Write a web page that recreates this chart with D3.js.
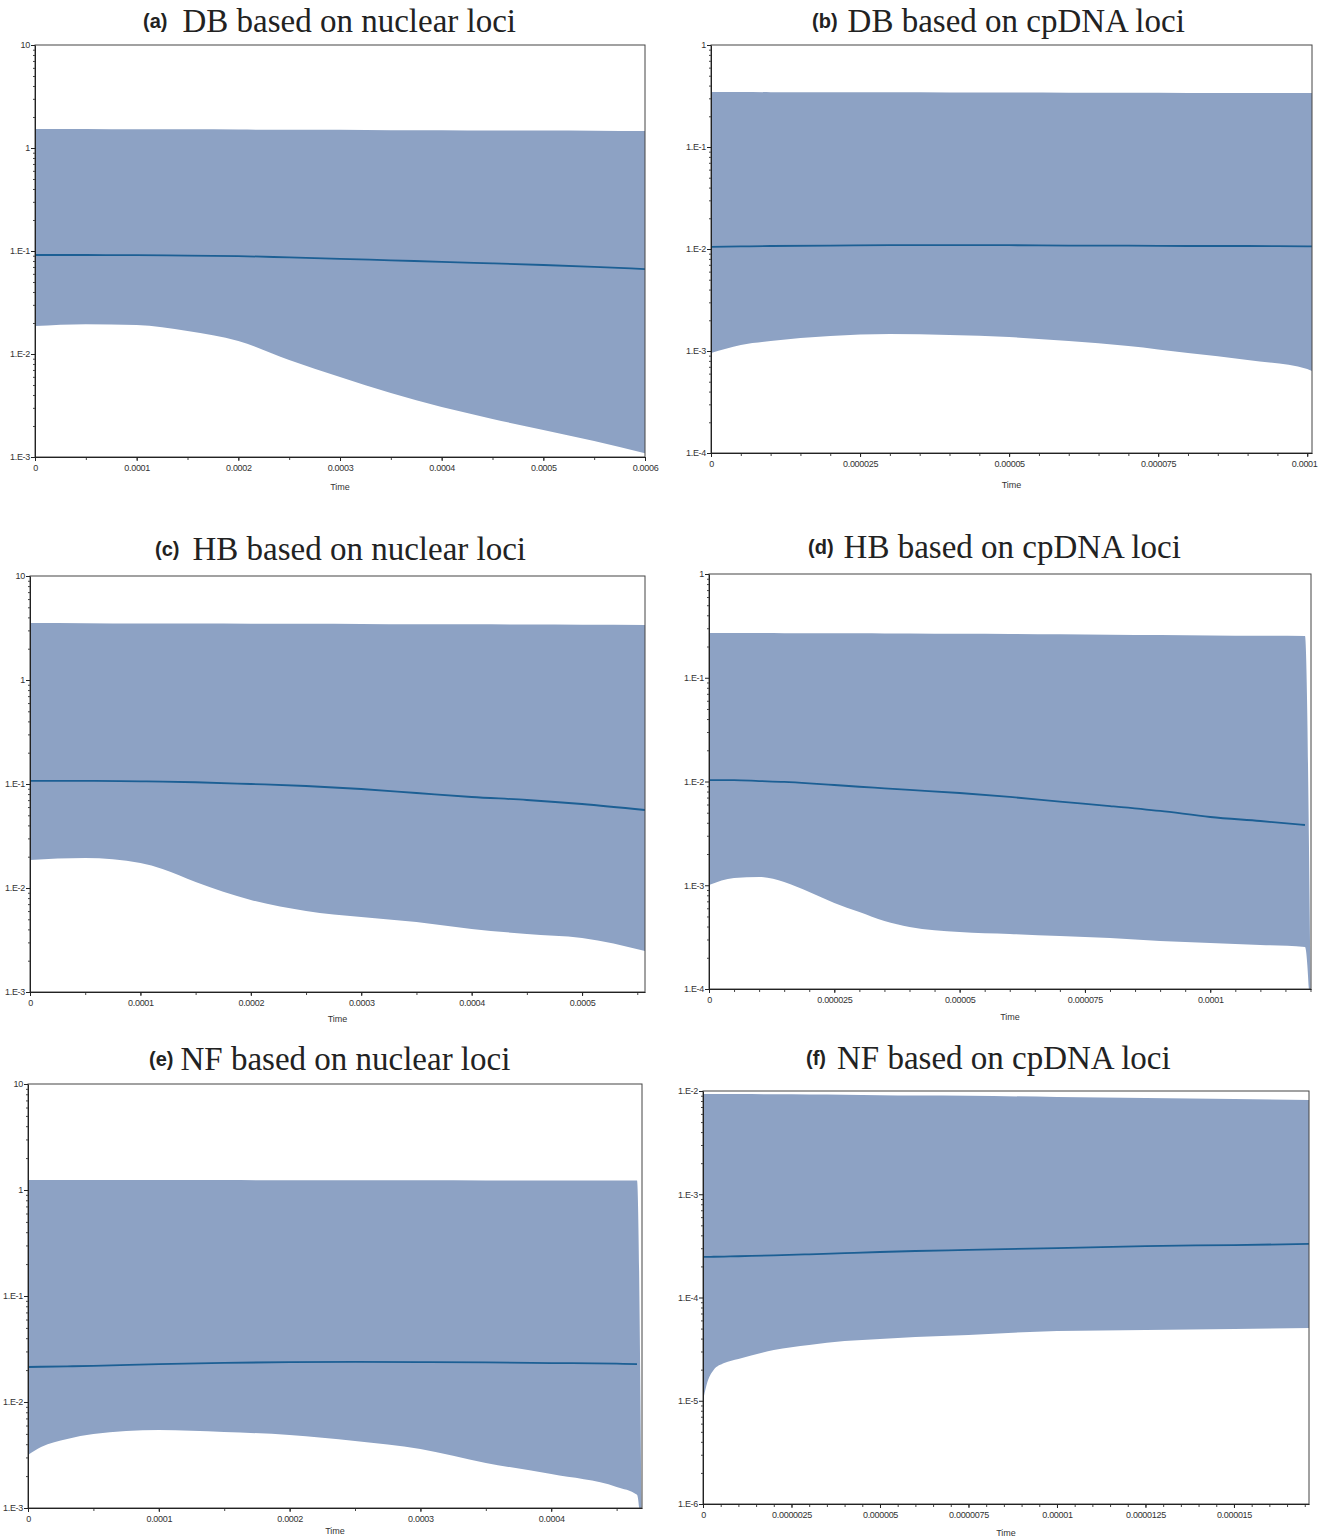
<!DOCTYPE html>
<html><head><meta charset="utf-8">
<script src="https://cdn.jsdelivr.net/npm/d3@7"></script>
<style>body{margin:0;background:#fff} svg{display:block}</style>
</head><body>
<svg id="chart" width="1319" height="1539"></svg>
<script>
// ---------- DATA ----------
const panelLetters = ["(a)","(b)","(c)","(d)","(e)","(f)"];
const panelTitles = ["DB based on nuclear loci","DB based on cpDNA loci","HB based on nuclear loci","HB based on cpDNA loci","NF based on nuclear loci","NF based on cpDNA loci"];

const timeA   = [0,0.00005,0.0001,0.00015,0.0002,0.00025,0.0003,0.00035,0.0004,0.00045,0.0005,0.00055,0.0006];
const upperA  = [1.53,1.53,1.52,1.52,1.51,1.50,1.50,1.49,1.49,1.48,1.48,1.47,1.46];
const medianA = [0.0914,0.0914,0.0910,0.0903,0.0893,0.0866,0.0840,0.0812,0.0785,0.0758,0.0731,0.0700,0.0668];
const lowerA  = [0.0187,0.0195,0.0191,0.0167,0.01336,0.00875,0.00598,0.00418,0.00305,0.00234,0.00183,0.00143,0.00109];

const timeB   = [0,0.000005,0.00001,0.00002,0.00003,0.00004,0.00005,0.00006,0.00007,0.00008,0.00009,0.0001,0.0001008];
const upperB  = [0.346,0.346,0.345,0.345,0.344,0.343,0.342,0.341,0.340,0.339,0.339,0.338,0.338];
const medianB = [0.0105,0.0106,0.0107,0.0108,0.0109,0.0109,0.0109,0.0108,0.0108,0.0107,0.0107,0.0106,0.0106];
const lowerB  = [0.000955,0.001146,0.001253,0.001403,0.001469,0.001435,0.001371,0.001253,0.001119,0.000955,0.000816,0.000667,0.000637];

const timeC   = [0,0.00005,0.0001,0.00012,0.00015,0.0002,0.00025,0.0003,0.00035,0.0004,0.00045,0.0005,0.000557];
const upperC  = [3.53,3.52,3.50,3.50,3.49,3.48,3.47,3.46,3.44,3.43,3.41,3.40,3.38];
const medianC = [0.107,0.107,0.106,0.1055,0.104,0.100,0.0957,0.0895,0.0819,0.075,0.0702,0.0642,0.0562];
const lowerC  = [0.01858,0.01942,0.01738,0.01524,0.01142,0.00767,0.00601,0.00526,0.00471,0.00404,0.00361,0.00330,0.00248];

const timeD   = [0,0.000005,0.00001,0.000015,0.00002,0.000025,0.00003,0.000035,0.00004,0.00005,0.00006,0.00007,0.00008,0.00009,0.0001,0.00011,0.0001189,0.00012];
const upperD  = [0.270,0.270,0.270,0.269,0.269,0.268,0.268,0.267,0.267,0.265,0.264,0.262,0.260,0.258,0.256,0.254,0.252,0.000105];
const medianD = [0.01033,0.0103,0.0101,0.0099,0.0096,0.00925,0.0089,0.0086,0.0083,0.00775,0.0071,0.0064,0.0058,0.0052,0.00455,0.00416,0.00381,null];
const lowerD  = [0.001005,0.001175,0.001202,0.001075,0.000861,0.000675,0.000552,0.000452,0.000396,0.000354,0.000339,0.000324,0.000310,0.000290,0.000278,0.000266,0.000254,0.00005];

const timeE   = [0,0.00001,0.00003,0.00005,0.0001,0.00015,0.0002,0.00025,0.0003,0.00035,0.0004,0.00045,0.0004656,0.000469];
const upperE  = [1.24,1.24,1.24,1.24,1.24,1.24,1.235,1.235,1.235,1.23,1.23,1.23,1.23,0.00105];
const medianE = [0.0214,0.0215,0.0217,0.0219,0.0228,0.0234,0.0238,0.0239,0.0238,0.0236,0.0233,0.0230,0.0228,null];
const lowerE  = [0.00316,0.00376,0.00448,0.00499,0.00544,0.00521,0.00489,0.00429,0.00360,0.00266,0.00209,0.00158,0.00133,0.0005];

const timeF   = [0,1e-7,3e-7,6e-7,1e-6,2e-6,3e-6,4e-6,5e-6,6e-6,7.5e-6,1e-5,1.25e-5,1.5e-5,1.712e-5];
const upperF  = [9.35e-3,9.35e-3,9.35e-3,9.35e-3,9.34e-3,9.3e-3,9.25e-3,9.2e-3,9.1e-3,9.05e-3,9.0e-3,8.75e-3,8.55e-3,8.35e-3,8.2e-3];
const medianF = [2.47e-4,2.47e-4,2.48e-4,2.49e-4,2.51e-4,2.56e-4,2.62e-4,2.69e-4,2.76e-4,2.82e-4,2.89e-4,3.01e-4,3.15e-4,3.22e-4,3.30e-4];
const lowerF  = [1.0e-5,1.42e-5,1.99e-5,2.32e-5,2.54e-5,3.10e-5,3.47e-5,3.79e-5,3.97e-5,4.15e-5,4.34e-5,4.74e-5,4.85e-5,4.96e-5,5.07e-5];

// tick values & labels
const yTicksNuc = [1e-3,1e-2,1e-1,1,10];
const yLabelsNuc = ["1.E-3","1.E-2","1.E-1","1","10"];
const yTicksCp = [1e-4,1e-3,1e-2,1e-1,1];
const yLabelsCp = ["1.E-4","1.E-3","1.E-2","1.E-1","1"];
const yTicksF = [1e-6,1e-5,1e-4,1e-3,1e-2];
const yLabelsF = ["1.E-6","1.E-5","1.E-4","1.E-3","1.E-2"];

const xTicksA = [0,0.0001,0.0002,0.0003,0.0004,0.0005,0.0006];
const xLabelsA = ["0","0.0001","0.0002","0.0003","0.0004","0.0005","0.0006"];
const xTicksB = [0,0.000025,0.00005,0.000075,0.0001];
const xLabelsB = ["0","0.000025","0.00005","0.000075","0.0001"];
const xTicksC = [0,0.0001,0.0002,0.0003,0.0004,0.0005];
const xLabelsC = ["0","0.0001","0.0002","0.0003","0.0004","0.0005"];
const xTicksE = [0,0.0001,0.0002,0.0003,0.0004];
const xLabelsE = ["0","0.0001","0.0002","0.0003","0.0004"];
const xTicksF = [0,0.0000025,0.000005,0.0000075,0.00001,0.0000125,0.000015];
const xLabelsF = ["0","0.0000025","0.000005","0.0000075","0.00001","0.0000125","0.000015"];
const axisTitle = "Time";

// ---------- LAYOUT ----------
const panels = [
  {t:timeA,u:upperA,m:medianA,l:lowerA,x0:35,x1:645,y0:45,y1:457,xd:[0,0.0006],yd:[1e-3,10],yt:yTicksNuc,yl:yLabelsNuc,xt:xTicksA,xl:xLabelsA,minor:0.00005,tx:143,ty:32,gap:15,timeY:487},
  {t:timeB,u:upperB,m:medianB,l:lowerB,x0:711,x1:1312,y0:45,y1:453,xd:[0,0.0001008],yd:[1e-4,1],yt:yTicksCp,yl:yLabelsCp,xt:xTicksB,xl:xLabelsB,minor:0.000005,tx:812,ty:32,gap:10,timeY:485},
  {t:timeC,u:upperC,m:medianC,l:lowerC,x0:30,x1:645,y0:576,y1:992,xd:[0,0.000557],yd:[1e-3,10],yt:yTicksNuc,yl:yLabelsNuc,xt:xTicksC,xl:xLabelsC,minor:0.00005,tx:155,ty:560,gap:13,timeY:1019},
  {t:timeD,u:upperD,m:medianD,l:lowerD,x0:709,x1:1311,y0:574,y1:989,xd:[0,0.0001201],yd:[1e-4,1],yt:yTicksCp,yl:yLabelsCp,xt:xTicksB,xl:xLabelsB,minor:0.000005,tx:808,ty:558,gap:10,timeY:1017},
  {t:timeE,u:upperE,m:medianE,l:lowerE,x0:28,x1:642,y0:1084,y1:1508,xd:[0,0.0004694],yd:[1e-3,10],yt:yTicksNuc,yl:yLabelsNuc,xt:xTicksE,xl:xLabelsE,minor:0.00005,tx:149,ty:1070,gap:7,timeY:1531},
  {t:timeF,u:upperF,m:medianF,l:lowerF,x0:703,x1:1309,y0:1091,y1:1504,xd:[0,0.00001712],yd:[1e-6,1e-2],yt:yTicksF,yl:yLabelsF,xt:xTicksF,xl:xLabelsF,minor:0.0000005,tx:806,ty:1069,gap:11,timeY:1533}
];

const W = 1319;
const bandColor = "#8da2c4";
const lineColor = "#1c5f94";
const tickFont = "'Liberation Sans',Arial,sans-serif";
const tickSize = 9;

const svg = d3.select("#chart");

panels.forEach((p, i) => {
  const x = d3.scaleLinear().domain(p.xd).range([p.x0, p.x1]);
  const y = d3.scaleLog().domain(p.yd).range([p.y1, p.y0]);
  const g = svg.append("g");

  const clipId = "clip" + i;
  svg.append("clipPath").attr("id", clipId).append("rect")
    .attr("x", p.x0).attr("y", p.y0).attr("width", p.x1 - p.x0).attr("height", p.y1 - p.y0);

  const pts = p.t.map((t, k) => ({t, u: p.u[k], m: p.m[k], l: p.l[k]}));
  const area = d3.area().x(d => x(d.t)).y0(d => y(d.l)).y1(d => y(d.u)).curve(d3.curveMonotoneX);
  const line = d3.line().defined(d => d.m != null).x(d => x(d.t)).y(d => y(d.m)).curve(d3.curveMonotoneX);

  const plot = g.append("g").attr("clip-path", `url(#${clipId})`);
  plot.append("path").datum(pts).attr("d", area).attr("fill", bandColor);
  plot.append("path").datum(pts).attr("d", line).attr("fill", "none").attr("stroke", lineColor).attr("stroke-width", 1.8);

  // frame
  g.append("rect").attr("x", p.x0).attr("y", p.y0).attr("width", p.x1 - p.x0).attr("height", p.y1 - p.y0)
    .attr("fill", "none").attr("stroke", "#444").attr("stroke-width", 1);

  // y minor ticks
  const yMinor = [];
  const e0 = Math.round(Math.log10(p.yd[0])), e1 = Math.round(Math.log10(p.yd[1]));
  for (let e = e0; e < e1; e++) for (let k = 2; k <= 9; k++) yMinor.push(k * Math.pow(10, e));
  g.append("g").attr("transform", `translate(${p.x0},0)`)
    .call(d3.axisLeft(y).tickValues(yMinor).tickSize(2).tickSizeOuter(0).tickFormat(""))
    .call(s => s.select(".domain").remove())
    .selectAll("line").attr("stroke", "#444");
  const yAx = g.append("g").attr("transform", `translate(${p.x0},0)`)
    .call(d3.axisLeft(y).tickValues(p.yt).tickSize(4).tickSizeOuter(0).tickPadding(1)
      .tickFormat((d, k) => p.yl[k]));
  yAx.select(".domain").attr("stroke", "#222");
  yAx.selectAll("line").attr("stroke", "#222");
  yAx.selectAll("text").attr("font-family", tickFont).attr("font-size", tickSize).attr("letter-spacing", -0.3).attr("fill", "#333");

  // x minor ticks
  const nMinor = Math.floor(p.xd[1] / p.minor + 1e-6);
  const xMinor = d3.range(0, nMinor + 1).map(k => k * p.minor);
  g.append("g").attr("transform", `translate(0,${p.y1})`)
    .call(d3.axisBottom(x).tickValues(xMinor).tickSize(3).tickSizeOuter(0).tickFormat(""))
    .call(s => s.select(".domain").remove())
    .selectAll("line").attr("stroke", "#444");
  const xAx = g.append("g").attr("transform", `translate(0,${p.y1})`)
    .call(d3.axisBottom(x).tickValues(p.xt).tickSize(4).tickSizeOuter(0).tickPadding(4)
      .tickFormat((d, k) => p.xl[k]));
  xAx.select(".domain").attr("stroke", "#222");
  xAx.selectAll("line").attr("stroke", "#222");
  xAx.selectAll("text").attr("font-family", tickFont).attr("font-size", tickSize).attr("letter-spacing", -0.3).attr("fill", "#333");
  // keep labels inside the page
  xAx.selectAll(".tick text").each(function(d) {
    const w = this.getComputedTextLength();
    const over = x(d) + w / 2 - (W - 2);
    if (over > 0) d3.select(this).attr("dx", -over);
  });

  // axis title
  g.append("text").attr("x", (p.x0 + p.x1) / 2).attr("y", p.timeY).attr("dy", "0.35em")
    .attr("text-anchor", "middle").attr("font-family", tickFont).attr("font-size", tickSize).attr("fill", "#333")
    .text(axisTitle);

  // panel title
  const tt = g.append("text").attr("x", p.tx).attr("y", p.ty).attr("fill", "#222");
  tt.append("tspan").attr("font-family", "'Liberation Sans',Arial,sans-serif").attr("font-weight", "bold")
    .attr("font-size", 20).attr("dy", -4).text(panelLetters[i]);
  tt.append("tspan").attr("font-family", "'Liberation Serif','Times New Roman',serif")
    .attr("font-size", 33).attr("dx", p.gap).attr("dy", 4).text(panelTitles[i]);
});
</script>
</body></html>
